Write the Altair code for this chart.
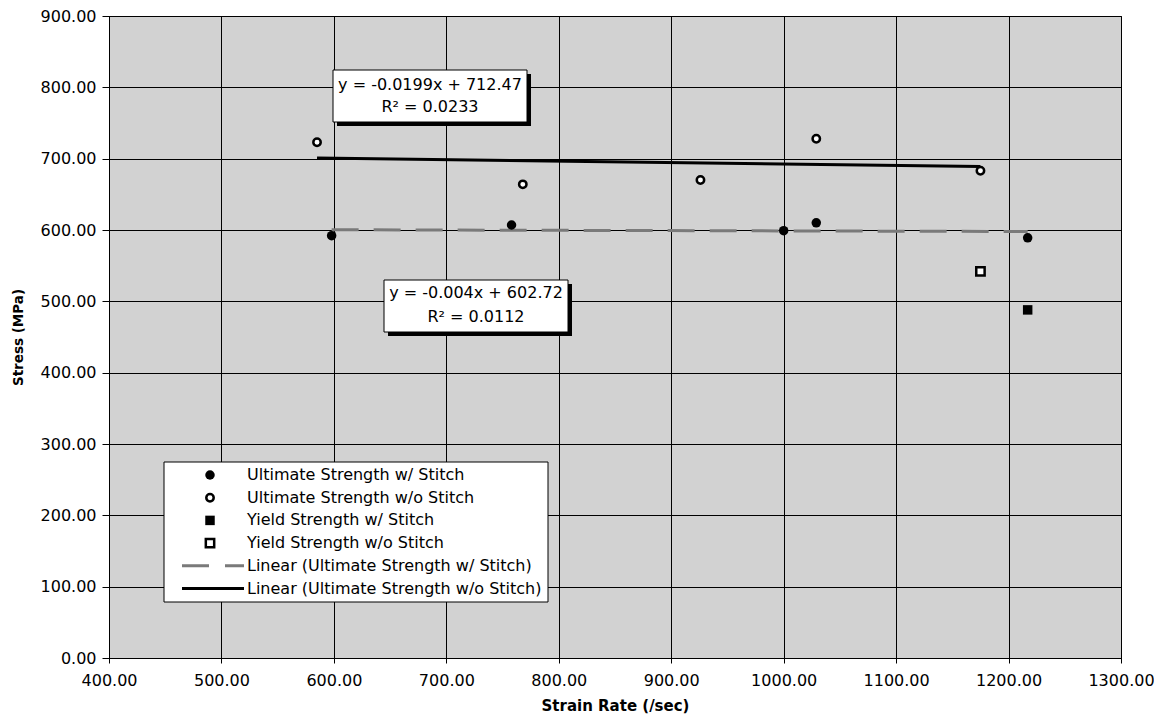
import altair as alt
import pandas as pd

# ---- data ----
us_x = [598, 758, 1000, 1029, 1217]   # Ultimate Strength w/ Stitch
us_y = [592, 607, 599, 610, 589]
uo_x = [585, 768, 926, 1029, 1175]    # Ultimate Strength w/o Stitch
uo_y = [723, 664, 670, 728, 683]
ys_x = [1217]                          # Yield Strength w/ Stitch
ys_y = [488]
yo_x = [1175]                          # Yield Strength w/o Stitch
yo_y = [542]

fit_ws = (-0.004, 602.72, "0.0112")    # Linear (Ultimate Strength w/ Stitch)
fit_wo = (-0.0199, 712.47, "0.0233")   # Linear (Ultimate Strength w/o Stitch)

legend_labels = [
    "Ultimate Strength w/ Stitch",
    "Ultimate Strength w/o Stitch",
    "Yield Strength w/ Stitch",
    "Yield Strength w/o Stitch",
    "Linear (Ultimate Strength w/ Stitch)",
    "Linear (Ultimate Strength w/o Stitch)",
]

FONT = "DejaVu Sans"
W, H = 1012, 642

xs = alt.Scale(domain=[400, 1300], nice=False)
ys = alt.Scale(domain=[0, 900], nice=False)
X = alt.X("x:Q", scale=xs, title="Strain Rate (/sec)",
          axis=alt.Axis(values=list(range(400, 1301, 100)), format=".2f",
                        labelFlush=False, labelOverlap=False, tickSize=5,
                        labelPadding=9, titlePadding=10, titleFontSize=15))
Y = alt.Y("y:Q", scale=ys, title="Stress (MPa)",
          axis=alt.Axis(values=list(range(0, 901, 100)), format=".2f",
                        labelFlush=False, labelOverlap=False, tickSize=7,
                        labelPadding=6, titlePadding=15, titleFontSize=13.5))

def pts(xv, yv):
    return pd.DataFrame({"x": xv, "y": yv})

def fit_line(xv, fit):
    a, b, _ = fit
    lo, hi = min(xv), max(xv)
    return pd.DataFrame({"x": [lo, hi], "y": [a * lo + b, a * hi + b]})

line_ws = alt.Chart(fit_line(us_x, fit_ws)).mark_line(
    color="#7a7a7a", strokeWidth=3, strokeDash=[27, 15]).encode(x=X, y=Y)
line_wo = alt.Chart(fit_line(uo_x, fit_wo)).mark_line(
    color="black", strokeWidth=3).encode(x=X, y=Y)

p_us = alt.Chart(pts(us_x, us_y)).mark_point(
    shape="circle", filled=True, color="black", size=90, opacity=1).encode(x=X, y=Y)
p_uo = alt.Chart(pts(uo_x, uo_y)).mark_point(
    shape="circle", filled=False, stroke="black", fill="white", strokeWidth=2.5,
    size=55, opacity=1, fillOpacity=1).encode(x=X, y=Y)
p_ys = alt.Chart(pts(ys_x, ys_y)).mark_point(
    shape="square", filled=True, color="black", size=90, opacity=1).encode(x=X, y=Y)
p_yo = alt.Chart(pts(yo_x, yo_y)).mark_point(
    shape="square", filled=False, stroke="black", fill="white", strokeWidth=2.5,
    size=70, opacity=1, fillOpacity=1).encode(x=X, y=Y)

one = pd.DataFrame({"k": [0]})

def box(x1, x2, y1, y2, l1, l2, ty1, ty2):
    shadow = alt.Chart(one).mark_rect(color="black").encode(
        x=alt.value(x1 + 4), x2=alt.value(x2 + 4),
        y=alt.value(y1 + 4), y2=alt.value(y2 + 4))
    face = alt.Chart(one).mark_rect(fill="white", stroke="black", strokeWidth=1).encode(
        x=alt.value(x1), x2=alt.value(x2), y=alt.value(y1), y2=alt.value(y2))
    cx = (x1 + x2) / 2
    t1 = alt.Chart(one).mark_text(font=FONT, fontSize=16, baseline="middle",
                                  align="center", color="black").encode(
        x=alt.value(cx), y=alt.value(ty1), text=alt.value(l1))
    t2 = alt.Chart(one).mark_text(font=FONT, fontSize=16, baseline="middle",
                                  align="center", color="black").encode(
        x=alt.value(cx), y=alt.value(ty2), text=alt.value(l2))
    return [shadow, face, t1, t2]

def eq(fit):
    a, b, r = fit
    return f"y = {a:g}x + {b:.2f}", f"R\u00b2 = {r}"

b1 = box(224, 418, 54, 106, *eq(fit_wo), 69, 91)
b2 = box(275, 459, 264, 316, *eq(fit_ws), 277, 301)

# ---- legend ----
LX1, LX2, LY1, LY2 = 55, 439, 446, 586
legend = [alt.Chart(one).mark_rect(fill="white", stroke="black", strokeWidth=1).encode(
    x=alt.value(LX1), x2=alt.value(LX2), y=alt.value(LY1), y2=alt.value(LY2))]
row_y = [459 + 22.7 * i for i in range(6)]
sym_x, txt_x = 101, 138
legend.append(alt.Chart(one).mark_point(shape="circle", filled=True, color="black",
                                         size=90, opacity=1).encode(
    x=alt.value(sym_x), y=alt.value(row_y[0])))
legend.append(alt.Chart(one).mark_point(shape="circle", filled=False, stroke="black",
                                         strokeWidth=2.5, size=55, opacity=1).encode(
    x=alt.value(sym_x), y=alt.value(row_y[1])))
legend.append(alt.Chart(one).mark_point(shape="square", filled=True, color="black",
                                         size=90, opacity=1).encode(
    x=alt.value(sym_x), y=alt.value(row_y[2])))
legend.append(alt.Chart(one).mark_point(shape="square", filled=False, stroke="black",
                                         strokeWidth=2.5, size=70, opacity=1).encode(
    x=alt.value(sym_x), y=alt.value(row_y[3])))
legend.append(alt.Chart(one).mark_rule(color="#7a7a7a", strokeWidth=3,
                                        strokeDash=[27, 16]).encode(
    x=alt.value(73), x2=alt.value(135), y=alt.value(row_y[4])))
legend.append(alt.Chart(one).mark_rule(color="black", strokeWidth=3).encode(
    x=alt.value(73), x2=alt.value(135), y=alt.value(row_y[5])))
for lab, ry in zip(legend_labels, row_y):
    legend.append(alt.Chart(one).mark_text(font=FONT, fontSize=16, align="left",
                                            baseline="middle", color="black").encode(
        x=alt.value(txt_x), y=alt.value(ry), text=alt.value(lab)))

chart = alt.layer(
    line_ws, line_wo, p_us, p_uo, p_ys, p_yo, *b1, *b2, *legend
).properties(
    width=W, height=H,
    background="white",
    autosize=alt.AutoSizeParams(type="none"),
    padding={"left": 101, "top": 8, "right": 33, "bottom": 56},
).configure_view(
    fill="#d2d2d2", stroke="black", strokeWidth=1
).configure_axis(
    grid=True, gridColor="black", gridOpacity=1, gridWidth=1,
    domainColor="black", tickColor="black",
    labelFont=FONT, labelFontSize=16, labelColor="black",
    titleFont=FONT, titleFontWeight="bold", titleColor="black",
)

chart.save("out.html", embed_options={"renderer": "svg", "actions": False})
